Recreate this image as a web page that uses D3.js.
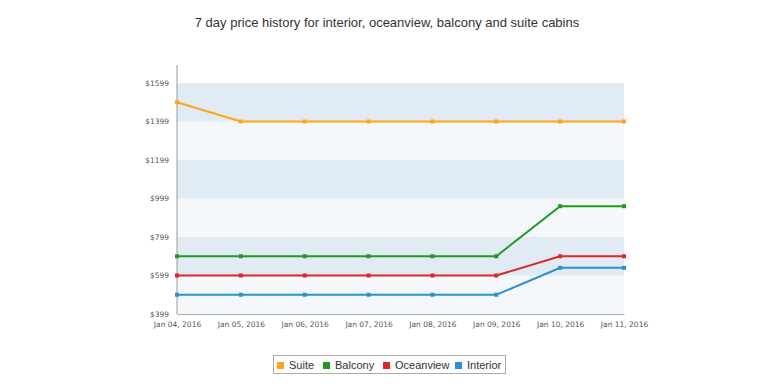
<!DOCTYPE html>
<html>
<head>
<meta charset="utf-8">
<script src="https://cdn.jsdelivr.net/npm/d3@7"></script>
<style>
html,body{margin:0;padding:0;background:#fff;}
svg{display:block;}
</style>
</head>
<body>
<svg id="chart" width="770" height="385"></svg>
<script>
const dates = ["Jan 04, 2016","Jan 05, 2016","Jan 06, 2016","Jan 07, 2016","Jan 08, 2016","Jan 09, 2016","Jan 10, 2016","Jan 11, 2016"];
const seriesNames = ["Suite","Balcony","Oceanview","Interior"];
const suite = [1499,1399,1399,1399,1399,1399,1399,1399];
const balcony = [699,699,699,699,699,699,959,959];
const oceanview = [599,599,599,599,599,599,699,699];
const interior = [499,499,499,499,499,499,639,639];
const yTicks = [399,599,799,999,1199,1399,1599];
const colors = ["#ffa31a","#1f9a1f","#dd2727","#2b8fd2"];
const title = "7 day price history for interior, oceanview, balcony and suite cabins";

const seriesValues = [suite, balcony, oceanview, interior];
const svg = d3.select("#chart");
const pLeft = 177, pRight = 624, pTop = 65, pBottom = 314;

const x = d3.scalePoint().domain(dates).range([pLeft, pRight]);
const y = d3.scaleLinear().domain([399, 1599]).range([pBottom, 83]);

// bands
for (let i = 0; i < yTicks.length - 1; i++) {
  svg.append("rect")
    .attr("x", pLeft).attr("width", pRight - pLeft)
    .attr("y", y(yTicks[i+1])).attr("height", y(yTicks[i]) - y(yTicks[i+1]))
    .attr("fill", i % 2 === 0 ? "#f4f8fb" : "#e0ebf3");
}

// title
svg.append("text").attr("x", 387).attr("y", 27).attr("text-anchor", "middle")
  .attr("font-family", "Liberation Sans, Arial, sans-serif").attr("font-size", 13)
  .attr("fill", "#333").text(title);

// axes
const yAxis = d3.axisLeft(y).tickValues(yTicks).tickFormat(d => "$" + d).tickSize(0).tickPadding(8);
const gy = svg.append("g").attr("transform", `translate(${pLeft},0)`).call(yAxis);
gy.select(".domain").remove();
gy.selectAll("text").attr("font-family", "DejaVu Sans, sans-serif").attr("font-size", 7.5).attr("fill", "#555");
svg.append("line").attr("x1", pLeft).attr("x2", pLeft).attr("y1", pTop).attr("y2", pBottom)
  .attr("stroke", "#999").attr("stroke-width", 1);

const xAxis = d3.axisBottom(x).tickSize(0).tickPadding(8);
const gx = svg.append("g").attr("transform", `translate(0,${pBottom})`).call(xAxis);
gx.select(".domain").attr("stroke", "#aaa");
gx.selectAll("text").attr("font-family", "DejaVu Sans, sans-serif").attr("font-size", 7.5).attr("fill", "#555");

// lines
const line = d3.line().x((d, i) => x(dates[i])).y(d => y(d));
seriesValues.forEach((vals, si) => {
  svg.append("path").datum(vals).attr("d", line).attr("fill", "none")
    .attr("stroke", colors[si]).attr("stroke-width", 2);
  svg.selectAll(null).data(vals).enter().append("rect")
    .attr("x", (d, i) => x(dates[i]) - 2).attr("y", d => y(d) - 2)
    .attr("width", 4).attr("height", 4).attr("fill", colors[si]);
});

// legend
const lg = svg.append("g");
lg.append("rect").attr("x", 273.5).attr("y", 355.5).attr("width", 232).attr("height", 18)
  .attr("fill", "#fff").attr("stroke", "#aaa");
const legendX = [277, 323, 383, 455];
seriesNames.forEach((n, i) => {
  lg.append("rect").attr("x", legendX[i]).attr("y", 362).attr("width", 7).attr("height", 7).attr("fill", colors[i]);
  lg.append("text").attr("x", legendX[i] + 12).attr("y", 369)
    .attr("font-family", "Liberation Sans, Arial, sans-serif").attr("font-size", 11)
    .attr("fill", "#333").text(n);
});
</script>
</body>
</html>
